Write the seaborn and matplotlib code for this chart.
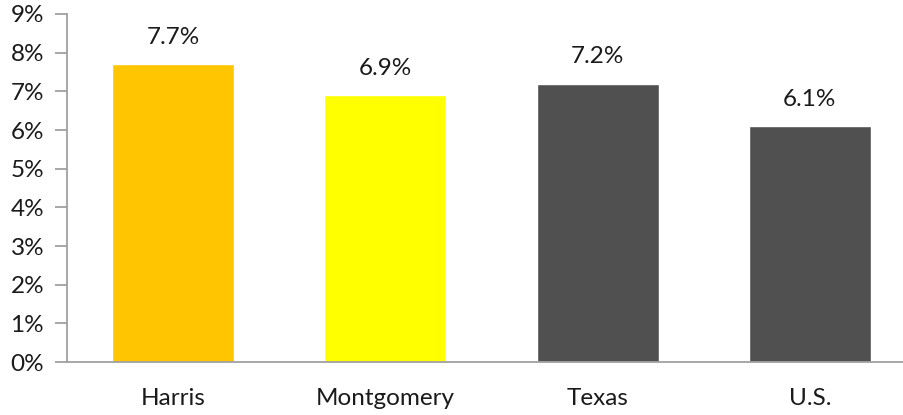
import matplotlib
matplotlib.use("Agg")
import matplotlib.pyplot as plt
import seaborn as sns
import pandas as pd
from matplotlib.ticker import FuncFormatter

categories = ["Harris", "Montgomery", "Texas", "U.S."]
values = [7.7, 6.9, 7.2, 6.1]
labels = ["7.7%", "6.9%", "7.2%", "6.1%"]
colors = ["#FFC600", "#FFFF00", "#505050", "#505050"]

sns.set_theme(style="white")
plt.rcParams["font.family"] = ["Lato", "DejaVu Sans"]

df = pd.DataFrame({"cat": categories, "val": values})

fig = plt.figure(figsize=(9.04, 4.15), dpi=100)
ax = fig.add_axes([67/904, 1-362/415, (916-67)/904, (362-14)/415])
sns.barplot(data=df, x="cat", y="val", hue="cat", palette=colors, legend=False,
            width=0.575, ax=ax, saturation=1)

ax.set_ylim(0, 9)
ax.set_xlim(-0.5, 3.5)
ax.set_yticks(range(0, 10))
ax.yaxis.set_major_formatter(FuncFormatter(lambda v, p: f"{int(v)}%"))
ax.set_xlabel("")
ax.set_ylabel("")
for s in ["top", "right"]:
    ax.spines[s].set_visible(False)
for s in ["left", "bottom"]:
    ax.spines[s].set_color("#A0A0A0")
    ax.spines[s].set_linewidth(1.3)
fs = 17.5
ax.tick_params(axis="y", which="major", length=9, width=1.3, color="#A0A0A0",
               direction="out", left=True, labelsize=fs, labelcolor="#1a1a1a", pad=7.5)
ax.tick_params(axis="x", length=0, labelsize=fs, labelcolor="#1a1a1a", pad=19)
for i, (v, lab) in enumerate(zip(values, labels)):
    ax.annotate(lab, (i, v), xytext=(0, 27), textcoords="offset pixels",
                ha="center", va="center", fontsize=fs, color="#1a1a1a")

fig.savefig("out.png", dpi=100)
